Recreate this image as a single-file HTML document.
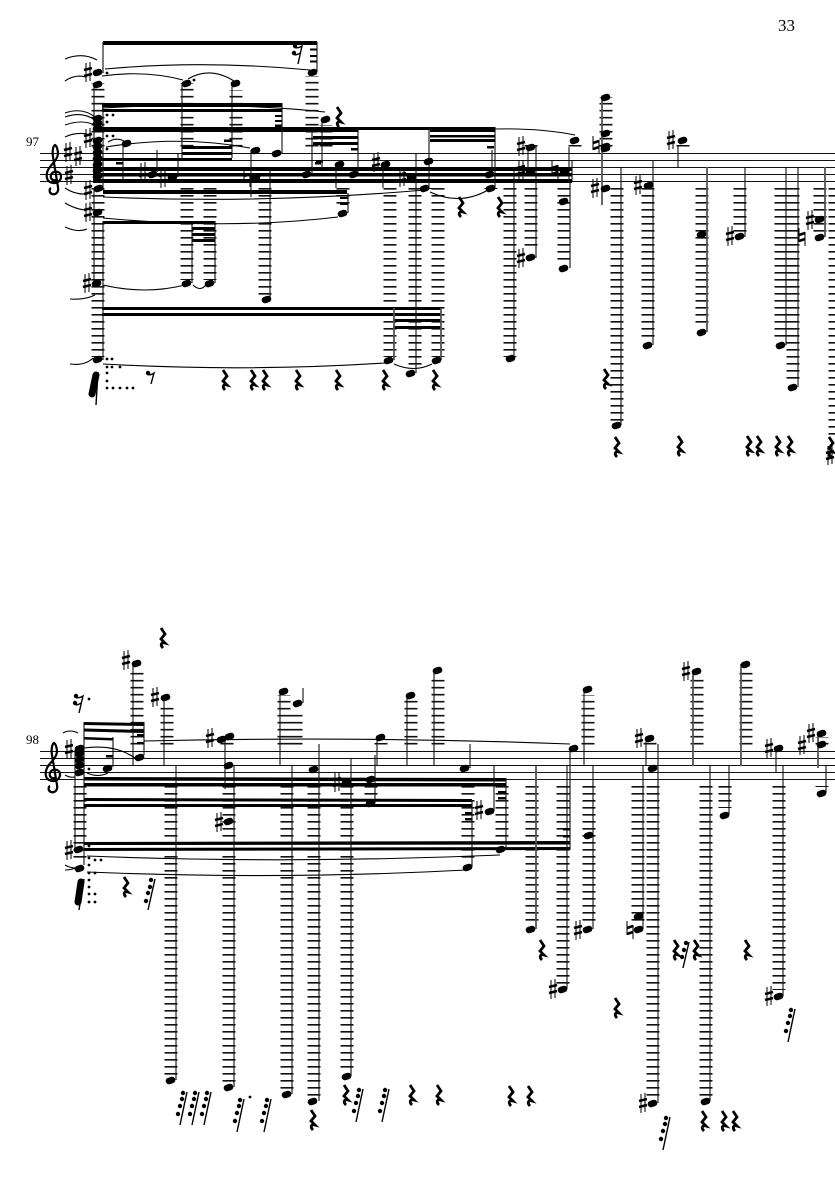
<!DOCTYPE html>
<html><head><meta charset="utf-8"><style>
html,body{margin:0;padding:0;background:#fff}
svg{display:block}
.n{fill:none;stroke:#000;stroke-width:6.6;stroke-linecap:round}
.l{fill:none;stroke:#111;stroke-width:13;stroke-dasharray:1.6 5.4}
.s{fill:none;stroke:#111;stroke-width:1.1}
.t{fill:none;stroke:#555;stroke-width:1.8}
.c{fill:none;stroke:#000;stroke-width:1.1}
.d{fill:none;stroke:#000;stroke-width:2.8;stroke-linecap:round}
.f{fill:none;stroke:#000;stroke-width:4.4;stroke-linecap:round}
.r{fill:none;stroke:#000;stroke-width:2.8;stroke-linejoin:miter}
.b{fill:none;stroke:#000;stroke-width:2.6}
.o{font:13px "Liberation Serif",serif;fill:#000}
</style></head><body>
<svg xmlns="http://www.w3.org/2000/svg" width="835" height="1181" viewBox="0 0 835 1181">
<rect width="835" height="1181" fill="#fff"/>
<text class="o" x="778" y="31" style="font-size:17px">33</text>
<text class="o" x="26" y="146">97</text>
<text class="o" x="26" y="744">98</text>

<path class="s" d="M40 153.5H835M40 160.5H835M40 167.5H835M40 174.5H835M40 181.5H835M40 751.5H835M40 758.5H835M40 765.5H835M40 772.5H835M40 779.5H835"/>

<path class="l" d="M98 146.500V83M187 146.500V83M236 146.500V90M312 146.500V76M326 146.500V125M531 146.500V145M575 146.500V145M606 146.500V97M683 146.500V145
M98 188V357M187 188V280M210 188V280M265 188V296M343 188V209M390 188V357M415 188V370M438 188V357M510 188V357M531 188V251M564 188V265M617 188V423M648 188V342M702 188V328M740 188V237M781 188V342M793 188V384M820 188V237M491 188V189M425 188V189M835 188V440
M137 744.500V670M167 744.500V704M227 744.500V737M284 744.500V695M296 744.500V710M381 744.500V743M411 744.500V700M438 744.500V675M588 744.500V695M650 744.500V738M697 744.500V675M746 744.500V668M822 744.500V737
M80 786V862M171 786V1075M229 786V1085M287 786V1090M314 786V1098M347 786V1073M371 786V795M468 786V860M502 786V842M532 786V925M563 786V985M589 786V925M638 786V925M653 786V1100M706 786V1098M725 786V808M779 786V990M822 786V787"/>

<path fill="#000" d="M103 41H317V45H103zM310 48.500h7v2h-7zM310 55h7v2h-7zM310 60.500h7v2h-7z
M102 103H282V107H102zM102 109H282V112H102zM275 115h7v2h-7zM275 120h7v2h-7zM275 124.500h7v2.500h-7z
M94 127H358V132H94zM358 127H495V130H358zM430 130H495V132H430zM430 135H495V137.500H430zM430 139H495V142H430zM313 136H358V139H313zM313 142H358V145H313z
M182 146H232V149H182zM182 152H232V155H182zM93 158H232V161H93zM116 162h7v2.500h-7zM224 139.500h8v2.500h-8zM315 162h6v2.500h-6z
M93 167H572V171H93zM93 173H572V176.500H93zM93 179H572V183H93z
M487 146h7v2.500h-7zM351 148h7v2.500h-7zM316 160h7v2.500h-7z
M103 190H347V194H103zM340 197h8v2h-8zM340 203h8v2h-8z
M103 221H215V224H103zM192 227H215V230H192zM192 233H215V236H192zM192 239H215V242H192z
M102 307H441V310H102zM102 313H441V316H102zM393 319H441V322H393zM393 326H441V329H393z
M84 722L144 723V726L84 725zM84 728.500L144 730V733L84 731.500zM84 737L113 738V740.500L84 739.500zM106 755h7v2.500h-7zM137 734h7v2.500h-7zM137 742h7v2.500h-7z
M84 777L506 778V781.500L84 780.500zM84 783L506 783V786.500L84 786.500zM84 798L472 799V802L84 801zM84 804L472 804V807L84 807zM84 842L570 841V844.500L84 845zM84 848L570 847V850L84 851z
M465 812h7v2.500h-7zM465 818h7v2.500h-7zM498 791h8v2.500h-8zM498 797h8v2.500h-8zM563 828h7v2.500h-7zM563 835h7v2.500h-7z"/>

<path class="s" d="M103 42V73M94 85V183M94 188V283M103 221V360M103 103V190M182 83V160M232 84V158M282 103V153M251 150V197M270 170V299M123 143V180M157 150V172M178 153V177M192 221V283M215 221V283M317 42V72M312 130V174M322 120V170M336 165V188M348 193V213M358 127V174M383 164V188M416 153V373M429 127V188M492 150V174M495 127V188M514 170V358M528 146V170M536 146V258M569 147V181M572 160V181M570 181V268M103 308V358M621 167V425M653 160V345M678 146V167M745 167V237M786 167V345M798 167V387
M75 750V850M84 722V865M144 722V755M113 737V767M133 663V766M164 697V766M176 766V1080M225 738V789M234 765V1087M280 691V766M303 688V703M292 766V1094M319 744V1101M351 758V1076M375 755V803M377 737V766M407 695V766M434 670V766M470 744V768M494 766V811M472 800V867M506 778V849M567 766V989M570 748V850M584 689V766M593 766V929M643 766V929M646 738V766M658 744V1103M710 766V1101M729 766V815M776 748V772M783 766V996M826 766V793"/>
<path class="t" d="M394 308V360M441 308V360M602 97V205M707 167V332M825 167V237M536 766V929M693 671V766M741 664V766M818 733V768"/>

<path class="n" d="M96 73l3-1M96 85l3-1M96 119l3-1M96 124l3-1M96 129l3-1M96 141l3-1M96 147l3-1M96 153l3-1M96 159l3-1M96 165l3-1M96 171l3-1M96 177l3-1M97 189l3-1M96 213l3-1M95 284l3-1M96 360l3-1M185 84l3-1M234 84l3-1M185 284l3-1M208 284l3-1M125 144l3-1M151 175l3-1M171 178l3-1M254 151l3-1M275 154l3-1M254 178l3-1M265 300l3-1M311 73l3-1M324 120l3-1M305 175l3-1M338 165l3-1M352 175l3-1M341 214l3-1M384 165l3-1M410 178l3-1M427 162l3-1M423 189l3-1M488 175l3-1M489 189l3-1M387 361l3-1M435 361l3-1M409 374l3-1M509 359l3-1M529 148l3-1M529 172l3-1M529 258l3-1M573 141l3-1M563 172l3-1M562 202l3-1M562 269l3-1M604 98l3-1M604 134l3-1M604 147l3-1M604 149l3-1M604 189l3-1M615 426l3-1M647 186l3-1M646 346l3-1M681 141l3-1M700 235l3-1M700 333l3-1M738 237l3-1M779 346l3-1M791 388l3-1M818 220l3-1M818 238l3-1
M78 749l3-1M78 754l3-1M78 760l3-1M78 766l3-1M78 773l3-1M77 850l3-1M78 869l3-1M138 758l3-1M106 769l3-1M135 664l3-1M164 698l3-1M220 740l3-1M228 737l3-1M227 766l3-1M227 822l3-1M169 1081l3-1M227 1088l3-1M282 692l3-1M296 704l3-1M285 1095l3-1M312 770l3-1M311 1102l3-1M345 783l3-1M345 1077l3-1M369 780l3-1M369 804l3-1M379 738l3-1M409 696l3-1M436 671l3-1M463 769l3-1M488 812l3-1M466 868l3-1M499 850l3-1M529 930l3-1M561 990l3-1M572 749l3-1M586 690l3-1M587 836l3-1M586 930l3-1M637 917l3-1M637 930l3-1M648 739l3-1M651 769l3-1M651 1104l3-1M695 672l3-1M704 1102l3-1M723 816l3-1M744 665l3-1M777 749l3-1M777 997l3-1M820 734l3-1M820 745l3-1M820 794l3-1"/>

<path class="s" d="M86 63v19m4-20v19M86 129v19m4-20v19M86 181v19m4-20v19M86 203v19m4-20v19M85 274v19m4-20v19M66 143v19m4-20v19M76 147v19m4-20v19M67 166v19m4-20v19M141 163v19m4-20v19M161 169v19m4-20v19M374 153v19m4-20v19M400 168v19m4-20v19M519 137v19m4-20v19M519 161v19m4-20v19M519 249v19m4-20v19M593 179v19m4-20v19M669 131v19m4-20v19M636 176v19m4-20v19M728 227v19m4-20v19M808 211v19m4-20v19M828 446v19m4-20v19
M67 740v19m4-20v19M67 841v19m4-20v19M124 651v19m4-20v19M153 688v19m4-20v19M208 729v19m4-20v19M217 813v19m4-20v19M335 773v19m4-20v19M477 801v19m4-20v19M551 980v19m4-20v19M576 921v19m4-20v19M641 1094v19m4-20v19M637 729v19m4-20v19M684 662v19m4-20v19M767 739v19m4-20v19M767 987v19m4-20v19M800 736v19m4-20v19M809 724v19m4-20v19
M244 169v14m6-10v14M552 161v14m6-10v14M593 136v14m6-10v14M799 228v14m6-10v14M627 921v14m6-10v14"/>
<path class="b" d="M84 70l8-2m-8 8l8-2M84 136l8-2m-8 8l8-2M84 188l8-2m-8 8l8-2M84 210l8-2m-8 8l8-2M83 281l8-2m-8 8l8-2M64 150l8-2m-8 8l8-2M74 154l8-2m-8 8l8-2M65 173l8-2m-8 8l8-2M139 170l8-2m-8 8l8-2M159 176l8-2m-8 8l8-2M372 160l8-2m-8 8l8-2M398 175l8-2m-8 8l8-2M517 144l8-2m-8 8l8-2M517 168l8-2m-8 8l8-2M517 256l8-2m-8 8l8-2M591 186l8-2m-8 8l8-2M667 138l8-2m-8 8l8-2M634 183l8-2m-8 8l8-2M726 234l8-2m-8 8l8-2M806 218l8-2m-8 8l8-2M826 453l8-2m-8 8l8-2
M65 747l8-2m-8 8l8-2M65 848l8-2m-8 8l8-2M122 658l8-2m-8 8l8-2M151 695l8-2m-8 8l8-2M206 736l8-2m-8 8l8-2M215 820l8-2m-8 8l8-2M333 780l8-2m-8 8l8-2M475 808l8-2m-8 8l8-2M549 987l8-2m-8 8l8-2M574 928l8-2m-8 8l8-2M639 1101l8-2m-8 8l8-2M635 736l8-2m-8 8l8-2M682 669l8-2m-8 8l8-2M765 746l8-2m-8 8l8-2M765 994l8-2m-8 8l8-2M798 743l8-2m-8 8l8-2M807 731l8-2m-8 8l8-2
M244 176l6-2m-6 8l6-2M552 168l6-2m-6 8l6-2M593 143l6-2m-6 8l6-2M799 235l6-2m-6 8l6-2M627 928l6-2m-6 8l6-2"/>

<path class="c" d="M105 69Q205 60 310 70M102 76Q145 70 183 80M188 79Q210 66 234 81M65 59Q82 52 97 60M65 81Q75 74 86 77M65 113Q82 107 95 117M65 117Q82 111 95 120M65 125Q82 119 95 125M65 137Q75 132 87 134M65 188Q75 195 88 194M65 203Q75 209 85 210M65 227Q78 233 87 229M102 108Q220 101 325 112M106 147Q180 135 250 148M108 142Q118 136 127 143M103 197Q260 204 425 190M103 218Q230 230 338 217M430 192Q460 206 488 190M495 129Q540 128 575 135M103 285Q145 295 185 285M193 285Q200 292 206 285M103 364Q245 372 385 363M394 364Q414 373 432 364M70 299Q85 300 95 295M70 364Q85 366 93 358
M87 856Q290 864 500 855M87 872Q280 880 466 870M144 741Q360 736 570 744M84 748Q115 744 135 758M87 773Q98 778 108 773M63 733Q70 729 78 733M65 775Q70 778 75 777M65 865Q70 868 76 868M65 870Q70 870 76 868"/>

<path class="r" d="M337 107l4 6-4 5 4 4c-4-1-5 2-2 5M459 197l4 6-4 5 4 4c-4-1-5 2-2 5M498 197l4 6-4 5 4 4c-4-1-5 2-2 5M604 369l4 6-4 5 4 4c-4-1-5 2-2 5M223 370l4 6-4 5 4 4c-4-1-5 2-2 5M251 370l4 6-4 5 4 4c-4-1-5 2-2 5M263 370l4 6-4 5 4 4c-4-1-5 2-2 5M296 370l4 6-4 5 4 4c-4-1-5 2-2 5M336 370l4 6-4 5 4 4c-4-1-5 2-2 5M383 370l4 6-4 5 4 4c-4-1-5 2-2 5M433 370l4 6-4 5 4 4c-4-1-5 2-2 5M615 437l4 6-4 5 4 4c-4-1-5 2-2 5M678 436l4 6-4 5 4 4c-4-1-5 2-2 5M747 436l4 6-4 5 4 4c-4-1-5 2-2 5M757 436l4 6-4 5 4 4c-4-1-5 2-2 5M776 436l4 6-4 5 4 4c-4-1-5 2-2 5M788 436l4 6-4 5 4 4c-4-1-5 2-2 5M829 437l4 6-4 5 4 4c-4-1-5 2-2 5
M161 628l4 6-4 5 4 4c-4-1-5 2-2 5M124 877l4 6-4 5 4 4c-4-1-5 2-2 5M540 940l4 6-4 5 4 4c-4-1-5 2-2 5M615 998l4 6-4 5 4 4c-4-1-5 2-2 5M674 940l4 6-4 5 4 4c-4-1-5 2-2 5M694 940l4 6-4 5 4 4c-4-1-5 2-2 5M745 940l4 6-4 5 4 4c-4-1-5 2-2 5M509 1086l4 6-4 5 4 4c-4-1-5 2-2 5M528 1086l4 6-4 5 4 4c-4-1-5 2-2 5M702 1111l4 6-4 5 4 4c-4-1-5 2-2 5M722 1111l4 6-4 5 4 4c-4-1-5 2-2 5M733 1111l4 6-4 5 4 4c-4-1-5 2-2 5M344 1085l4 6-4 5 4 4c-4-1-5 2-2 5M410 1085l4 6-4 5 4 4c-4-1-5 2-2 5M437 1085l4 6-4 5 4 4c-4-1-5 2-2 5M311 1110l4 6-4 5 4 4c-4-1-5 2-2 5"/>

<path fill="none" stroke="#000" stroke-width="1.4" d="M147 374q3 2 7-1l-3 11M294 47q3 2 8-1l-4 18M293 54q3 2 7-1M75 697q3 2 8-1l-4 17M74 704q3 2 7-1
M155 879l-7 31M187 1092l-7 33M199 1092l-7 33M211 1092l-7 33M244 1099l-7 33M271 1099l-7 33M363 1089l-7 33M389 1089l-7 33M795 1009l-7 33M670 1117l-7 33M689 942l-6 26M98 372l-2 33M84 879l-5 31"/>
<path class="f" d="M148 373h.01M295 46h.01M294 53h.01M76 696h.01M75 703h.01
M151 880h.01M150 887h.01M148 893h.01M146 901h.01
M183 1093h.01M182 1099h.01M180 1106h.01M178 1114h.01M195 1093h.01M194 1099h.01M192 1106h.01M190 1114h.01M207 1093h.01M206 1099h.01M204 1106h.01M202 1114h.01
M240 1100h.01M239 1106h.01M237 1113h.01M235 1121h.01M267 1100h.01M266 1106h.01M264 1113h.01M262 1121h.01
M359 1090h.01M358 1096h.01M356 1103h.01M354 1111h.01M385 1090h.01M384 1096h.01M382 1103h.01M380 1111h.01
M791 1010h.01M790 1016h.01M788 1023h.01M786 1031h.01M666 1118h.01M665 1124h.01M663 1131h.01M661 1139h.01
M686 943h.01M684 950h.01M682 957h.01"/>
<path fill="none" stroke="#000" stroke-width="7" stroke-linecap="round" d="M96 375L92 394M81 882L78 902"/>

<path class="d" d="M107 73h.01M194 80h.01M107 115h.01M113 115h.01M107 122h.01M107 136h.01M113 136h.01M107 149h.01M107 359h.01M112 359h.01M107 367h.01M112 367h.01M120 367h.01M107 373h.01M107 381h.01M107 388h.01M113 388h.01M120 388h.01M127 388h.01M133 388h.01
M89 699h.01M89 769h.01M89 846h.01M89 858h.01M89 865h.01M89 873h.01M89 880h.01M89 887h.01M89 894h.01M89 902h.01M95 894h.01M95 902h.01M95 860h.01M101 860h.01M95 873h.01M250 1097h.01"/>

<g fill="none" stroke="#000" stroke-width="2.2">
<path d="M56 180c-4 1-6-2-5-5c1-3 4-4 7-3c3 1 4 5 2 8c-2 3-7 4-10 2c-4-2-4-8-2-12c3-6 9-9 10-16c0-3-1-8-3-9c-2 1-3 7-2 12l5 30c1 5-2 8-6 7c-3-1-3-5-1-6"/>
<path transform="translate(-1 598)" d="M56 180c-4 1-6-2-5-5c1-3 4-4 7-3c3 1 4 5 2 8c-2 3-7 4-10 2c-4-2-4-8-2-12c3-6 9-9 10-16c0-3-1-8-3-9c-2 1-3 7-2 12l5 30c1 5-2 8-6 7c-3-1-3-5-1-6"/>
</g>
</svg>
</body></html>
